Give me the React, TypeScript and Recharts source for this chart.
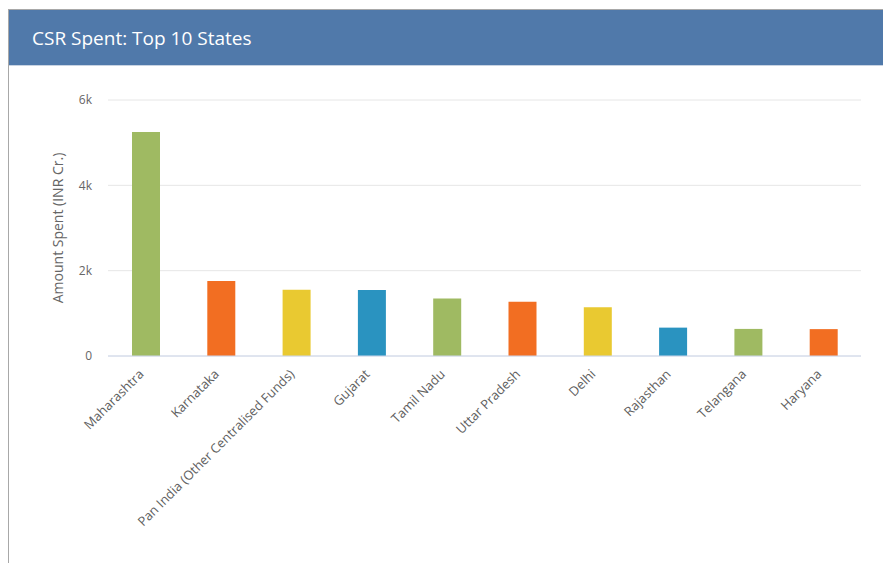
import React from "react";
import { BarChart, Bar, XAxis, YAxis, CartesianGrid, Cell, Label } from "recharts";

const states = [
  "Maharashtra",
  "Karnataka",
  "Pan India (Other Centralised Funds)",
  "Gujarat",
  "Tamil Nadu",
  "Uttar Pradesh",
  "Delhi",
  "Rajasthan",
  "Telangana",
  "Haryana",
];
const amountSpent = [5250, 1760, 1550, 1545, 1350, 1270, 1140, 665, 635, 630];
const yTicks = [0, 2000, 4000, 6000];
const palette = ["#9fba62", "#f26e22", "#e9c931", "#2a93c0"];

const data = states.map((s, i) => ({ state: s, amount: amountSpent[i] }));

const FONT = "'Open Sans', 'Noto Sans', sans-serif";

const XTick = (props: any) => {
  const { x, y, payload } = props;
  const ax = x - 1;
  const ay = y + 11;
  return (
    <text
      x={ax}
      y={ay}
      textAnchor="end"
      transform={`rotate(-45, ${ax}, ${ay})`}
      fontSize={13}
      fill="#606060"
      fontFamily={FONT}
    >
      {payload.value}
    </text>
  );
};

const fmt = (v: number) => (v === 0 ? "0" : `${v / 1000}k`);

export default function App() {
  return (
    <div
      style={{
        position: "fixed",
        left: 8,
        top: 9,
        width: 875,
        height: 554,
        borderLeft: "1px solid #a8a8a8",
        borderTop: "1px solid #a8a8a8",
        background: "#fff",
        overflow: "hidden",
        boxSizing: "border-box",
      }}
    >
      <div
        style={{
          height: 56,
          background: "#5079aa",
          borderBottom: "1px solid #c8d3e2",
          display: "flex",
          alignItems: "center",
          paddingLeft: 23,
          color: "#ffffff",
          fontFamily: FONT,
          fontSize: 19,
          boxSizing: "border-box",
        }}
      >
        CSR Spent: Top 10 States
      </div>
      <BarChart
        width={874}
        height={496}
        data={data}
        margin={{ top: 34, right: 22, left: 0, bottom: 16 }}
      >
        <CartesianGrid vertical={false} stroke="#e6e6e6" />
        <XAxis
          dataKey="state"
          interval={0}
          tick={<XTick />}
          tickLine={false}
          axisLine={{ stroke: "#ccd6eb" }}
          height={190}
        />
        <YAxis
          width={99}
          domain={[0, 6000]}
          ticks={yTicks}
          tickFormatter={fmt}
          tickLine={false}
          axisLine={false}
          tickSize={8}
          tickMargin={8}
          tick={{ fontSize: 12, fill: "#666666", fontFamily: FONT }}
        >
          <Label
            content={(p: any) => {
              const vb = p.viewBox;
              const cx = vb.x + 48;
              const cy = vb.y + vb.height / 2;
              return (
                <text
                  x={cx}
                  y={cy}
                  textAnchor="middle"
                  dominantBaseline="central"
                  transform={`rotate(-90, ${cx}, ${cy})`}
                  fontSize={14}
                  fill="#666666"
                  fontFamily={FONT}
                >
                  Amount Spent (INR Cr.)
                </text>
              );
            }}
          />
        </YAxis>
        <Bar dataKey="amount" barSize={28} isAnimationActive={false}>
          {data.map((_, i) => (
            <Cell key={i} fill={palette[i % palette.length]} />
          ))}
        </Bar>
      </BarChart>
    </div>
  );
}
